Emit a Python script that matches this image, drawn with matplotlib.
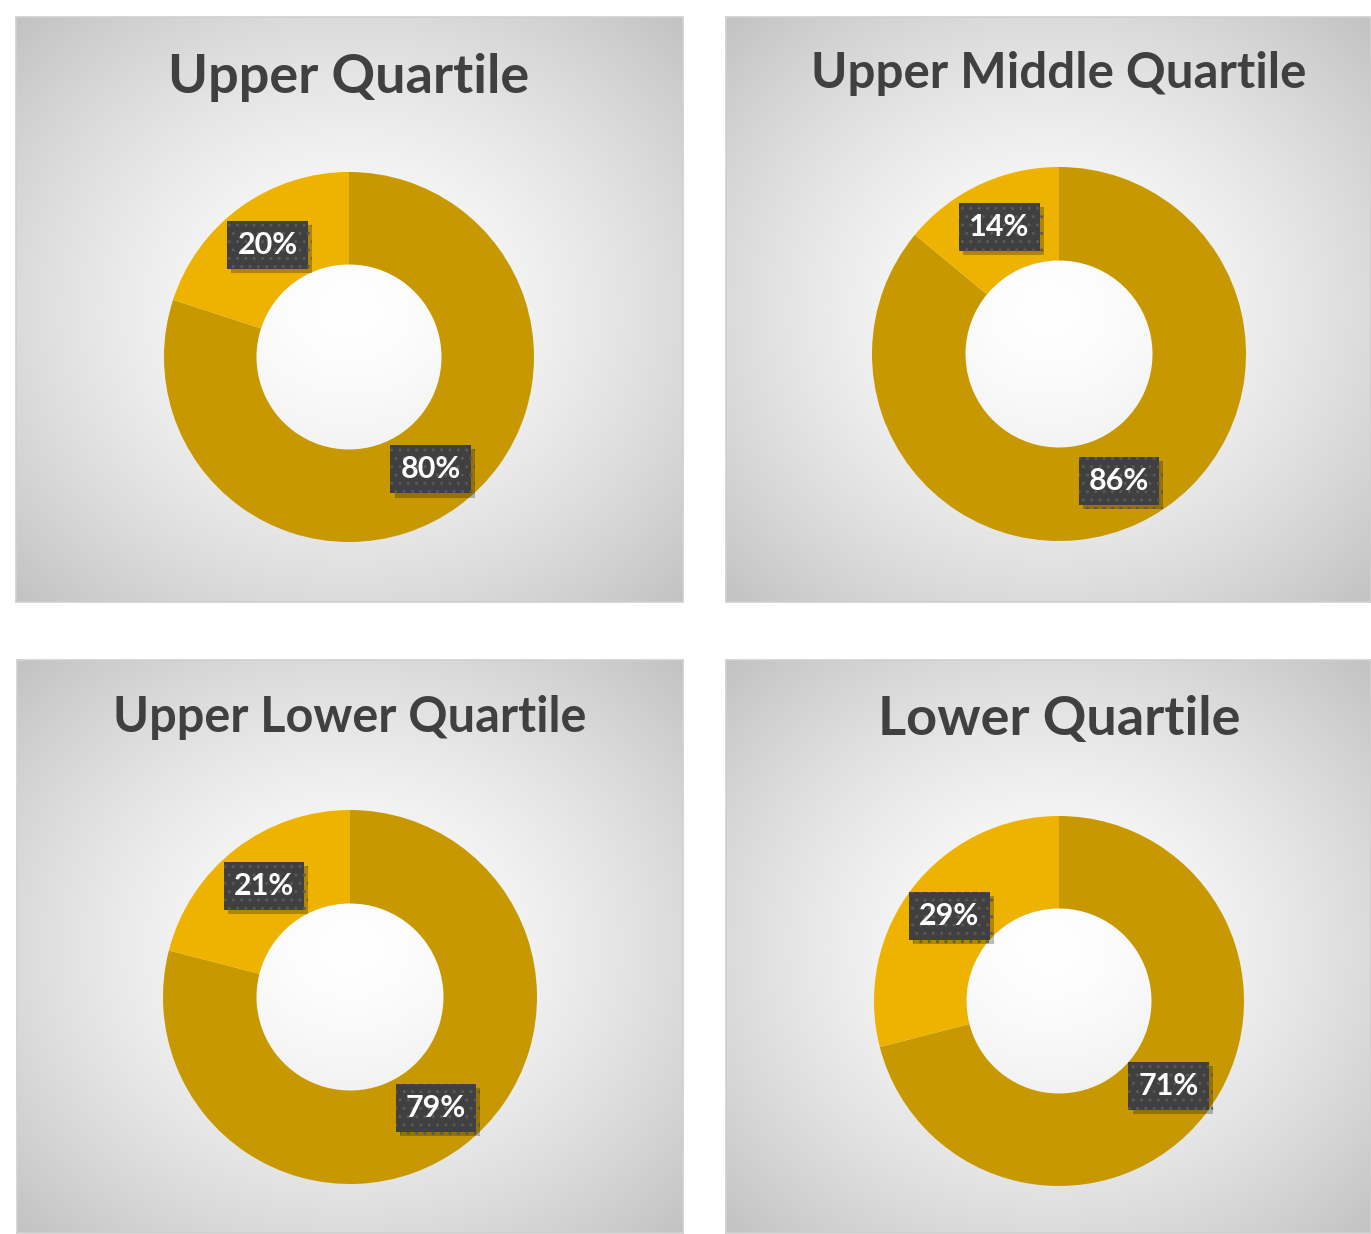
import numpy as np
import matplotlib
matplotlib.use("Agg")
import matplotlib.pyplot as plt
import matplotlib.patheffects as pe

# --- Data --------------------------------------------------------------------

titles = ["Upper Quartile", "Upper Middle Quartile",
          "Upper Lower Quartile", "Lower Quartile"]
big_share = [80, 86, 79, 71]
small_share = [20, 14, 21, 29]

# --- Style -------------------------------------------------------------------

W, H = 1371, 1234
DPI = 100
BIG_COLOR = "#C89800"
SMALL_COLOR = "#EEB200"
TITLE_COLOR = "#404040"
BOX_COLOR = "#404040"
FONT = ["Lato", "DejaVu Sans"]

# panel rects in pixels: (x0, y0, x1, y1), donut centre, outer radius, title y, title size
PANELS = [
    dict(rect=(16, 17, 683, 602), c=(349, 357), r=185, ty=78, fs=39),
    dict(rect=(726, 17, 1371, 602), c=(1059, 354), r=187, ty=73, fs=35.5),
    dict(rect=(17, 660, 683, 1233), c=(350, 997), r=187, ty=717, fs=35),
    dict(rect=(726, 660, 1371, 1233), c=(1059, 1001), r=185, ty=720, fs=39),
]


def px_rect(x0, y0, x1, y1):
    """Pixel box (top-left origin) -> figure fraction rect."""
    return [x0 / W, 1 - y1 / H, (x1 - x0) / W, (y1 - y0) / H]


def gradient(w, h):
    yy, xx = np.mgrid[0:h, 0:w]
    dx = (xx - w / 2) / (w / 2)
    dy = (yy - h / 2) / (h / 2)
    d = np.sqrt(dx ** 2 + dy ** 2) / np.sqrt(2)
    v = 1.0 - 0.24 * np.clip(d, 0, 1) ** 1.5
    return np.dstack([v, v, v])


fig = plt.figure(figsize=(W / DPI, H / DPI), dpi=DPI)
fig.patch.set_facecolor("white")

for i, p in enumerate(PANELS):
    x0, y0, x1, y1 = p["rect"]
    bg = fig.add_axes(px_rect(x0, y0, x1, y1))
    bg.imshow(gradient(int(x1 - x0), int(y1 - y0)), aspect="auto",
              extent=(0, 1, 0, 1))
    bg.set_xlim(0, 1)
    bg.set_ylim(0, 1)
    bg.set_xticks([])
    bg.set_yticks([])
    for s in bg.spines.values():
        s.set_color("#d0d0d0")
        s.set_linewidth(1.2)

    cx, cy = p["c"]
    r = p["r"]

    # title, centred over the donut
    fig.text(cx / W, 1 - p["ty"] / H, titles[i],
             ha="center", va="center", fontsize=p["fs"], fontweight="bold",
             color=TITLE_COLOR, family=FONT)

    # donut
    ax = fig.add_axes(px_rect(cx - r, cy - r, cx + r, cy + r))
    vals = [big_share[i], small_share[i]]
    wedges, _ = ax.pie(vals, colors=[BIG_COLOR, SMALL_COLOR], startangle=90,
                       counterclock=False, radius=1,
                       wedgeprops=dict(width=0.5, linewidth=0))
    ax.set_xlim(-1, 1)
    ax.set_ylim(-1, 1)
    ax.set_aspect("equal")
    ax.axis("off")

    # labels at wedge mid-angle, mid-ring
    for w, v in zip(wedges, vals):
        ang = np.deg2rad((w.theta1 + w.theta2) / 2)
        lx, ly = 0.75 * np.cos(ang), 0.75 * np.sin(ang)
        t = ax.text(lx, ly, f"{v}%", ha="center", va="center", fontsize=22,
                    fontweight="bold", color="white", family=FONT, zorder=5,
                    bbox=dict(boxstyle="square,pad=0.33", fc=BOX_COLOR,
                              ec="#595959", lw=0, hatch=".."))
        t.get_bbox_patch().set_path_effects([
            pe.SimplePatchShadow(offset=(3, -3), shadow_rgbFace="black",
                                 alpha=0.25),
            pe.Normal()])

fig.savefig("out.png", dpi=DPI, facecolor="white")
